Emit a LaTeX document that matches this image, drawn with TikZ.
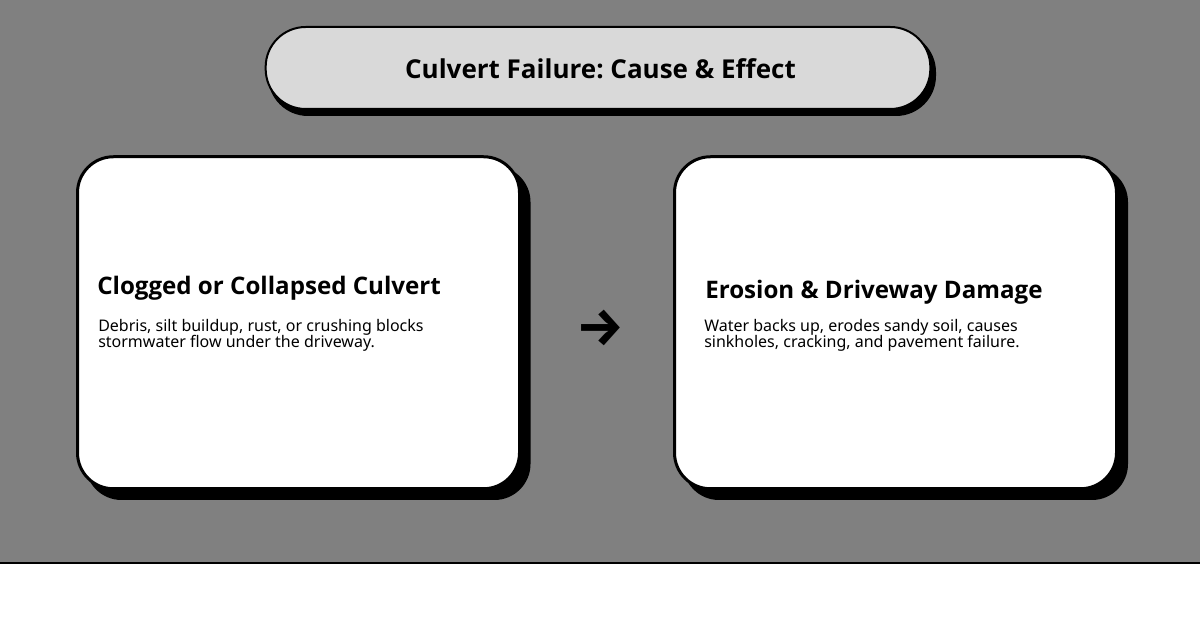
\documentclass[tikz,border=0pt]{standalone}
\usepackage{fontspec}
\setmainfont{Noto Sans}
\newfontfamily\headfont{Open Sans}
\newfontfamily\arrowfont{Fira Sans}
\definecolor{titlegray}{HTML}{D9D9D9}
\definecolor{backgray}{HTML}{808080}
\frenchspacing
\tikzset{
  pill/.style={draw=black, line width=1.5pt, fill=titlegray, rounded corners=30pt,
    minimum width=498.5pt, minimum height=61.5pt, inner sep=0pt},
  pillshadow/.style={fill=black, rounded corners=30pt,
    minimum width=501pt, minimum height=63pt, inner sep=0pt},
  card/.style={draw=black, line width=2.25pt, fill=white, rounded corners=27pt,
    minimum width=331.5pt, minimum height=249pt, inner sep=0pt},
  cardshadow/.style={fill=black, rounded corners=27pt,
    minimum width=333.75pt, minimum height=250.5pt, inner sep=0pt},
  heading/.style={font=\headfont\bfseries\fontsize{18.1pt}{22pt}\selectfont, anchor=base west, inner sep=0pt},
  bodytext/.style={font=\fontsize{12pt}{12pt}\selectfont, anchor=base west, inner sep=0pt},
}
\begin{document}
\begin{tikzpicture}[x=0.75pt,y=-0.75pt]
\useasboundingbox (0,0) rectangle (1200,630);

% background
\fill[backgray] (0,0) rectangle (1200,563);
\coordinate (ruleleft) at (0,563);
\coordinate (ruleright) at (1200,563);
\draw[line width=1.5pt] (ruleleft) -- (ruleright);

% title
\node[pillshadow] (titleshadow) at (602,74) {};
\node[pill] (title) at (598,68) {};
\node[font=\headfont\bfseries\fontsize{19.5pt}{24pt}\selectfont, inner sep=0pt] (titletext) at (600.5,68.5) {Culvert Failure: Cause \& Effect};

% left card
\node[cardshadow] (causeshadow) at (308,333) {};
\node[card] (cause) at (298.5,322.75) {};
\node[heading] (causehead) at (97,295) {Clogged or Collapsed Culvert};
\node[bodytext] (causeone) at (98,332) {Debris, silt buildup, rust, or crushing blocks};
\node[bodytext] (causetwo) at (98,348) {stormwater flow under the driveway.};

% right card
\node[cardshadow] (effectshadow) at (905.5,333) {};
\node[card] (effect) at (895.5,322.75) {};
\node[heading] (effecthead) at (705,299) {Erosion \& Driveway Damage};
\node[bodytext] (effectone) at (704,332) {Water backs up, erodes sandy soil, causes};
\node[bodytext] (effecttwo) at (704,348) {sinkholes, cracking, and pavement failure.};

% arrow between the cards
\node[font=\arrowfont\bfseries\fontsize{40pt}{40pt}\selectfont, inner sep=0pt] (arrow) at (600,328) {→};
\end{tikzpicture}
\end{document}
